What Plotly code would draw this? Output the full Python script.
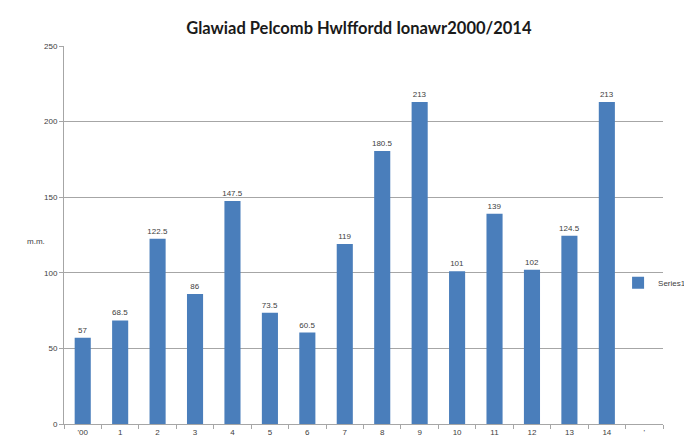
import plotly.graph_objects as go

categories = ["'00", "1", "2", "3", "4", "5", "6", "7", "8", "9", "10", "11", "12", "13", "14", "'"]
values = [57, 68.5, 122.5, 86, 147.5, 73.5, 60.5, 119, 180.5, 213, 101, 139, 102, 124.5, 213, None]
labels = ["57", "68.5", "122.5", "86", "147.5", "73.5", "60.5", "119", "180.5", "213", "101", "139", "102", "124.5", "213", ""]
y_ticks = [0, 50, 100, 150, 200, 250]

fig = go.Figure()
fig.add_trace(go.Bar(
    x=categories, y=values, name="Series1",
    marker=dict(color="#4A7EBB", line=dict(width=0)),
    width=0.43,
    text=labels, textposition="outside",
    textfont=dict(size=8, color="#404040", family="Liberation Sans"),
    constraintext="none",
    cliponaxis=False,
))

fig.update_layout(
    width=684, height=433,
    margin=dict(l=56, r=29, t=38, b=17, autoexpand=False),
    paper_bgcolor="white", plot_bgcolor="white",
    title=dict(text="<b>Glawiad Pelcomb Hwlffordd Ionawr2000/2014</b>",
               x=0.513, xanchor="center", y=0.953, yanchor="middle",
               font=dict(family="Lato", size=16.5, color="#1a1a1a")),
    showlegend=True,
    legend=dict(x=0.925, y=0.374, xanchor="left", yanchor="middle",
                font=dict(size=8, color="#404040", family="Liberation Sans"),
                bgcolor="rgba(0,0,0,0)", itemwidth=30),
    xaxis=dict(type="category", tickson="boundaries", ticks="outside", ticklen=4,
               tickcolor="#a6a6a6", showline=True, linecolor="#a6a6a6",
               showgrid=False, tickfont=dict(size=8, color="#404040", family="Liberation Sans"),
               range=[-0.5, 15.5]),
    yaxis=dict(range=[0, 250], tickvals=y_ticks, ticks="outside", ticklen=4,
               tickcolor="#a6a6a6", showline=True, linecolor="#a6a6a6",
               showgrid=True, gridcolor="#a6a6a6", gridwidth=1, zeroline=False,
               tickfont=dict(size=8, color="#404040", family="Liberation Sans")),
    annotations=[dict(text="m.m.", x=-0.065, y=0.484, xref="paper", yref="paper",
                      showarrow=False, font=dict(size=8, color="#404040", family="Liberation Sans"))],
)

fig.write_html("out.html")
